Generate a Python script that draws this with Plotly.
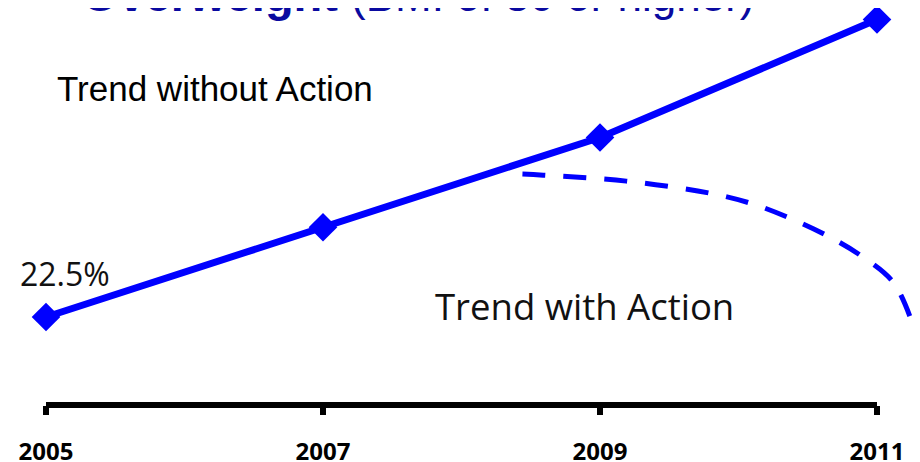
import plotly.graph_objects as go

# ---- data ----
years = [2005, 2007, 2009, 2011]
trend_without = [22.5, 25.05, 27.6, 30.95]
action_x = [2008.44, 2008.59, 2009.19, 2009.79, 2010.08, 2010.37, 2010.66, 2010.90, 2011.12, 2011.26]
action_y = [26.56, 26.53, 26.36, 26.02, 25.74, 25.31, 24.77, 24.20, 23.47, 22.27]
tick_labels = ["2005", "2007", "2009", "2011"]
start_label = "22.5%"

# page keeps its 8px body margin; figure fills the rest of the 920x462 window
OFF = 8
W, H = 920 - OFF, 462 - OFF
AXIS_Y = 405 - OFF          # axis line, figure pixels
B = H - AXIS_Y
PH = AXIS_Y

def px(sx):
    return (sx - OFF) / W

def py(sy):
    return (PH - (sy - OFF)) / PH

fig = go.Figure()
fig.add_trace(go.Scatter(
    x=years, y=trend_without, mode="lines+markers",
    line=dict(color="#0000FF", width=7),
    marker=dict(symbol="diamond", size=22, color="#0000FF"),
    hoverinfo="skip", showlegend=False, cliponaxis=False))
fig.add_trace(go.Scatter(
    x=action_x, y=action_y, mode="lines",
    line=dict(color="#0000FF", width=5, dash="23px,18px", shape="spline", smoothing=1.0),
    hoverinfo="skip", showlegend=False, cliponaxis=False))

fig.add_shape(type="line", xref="x", yref="paper", x0=years[0], x1=years[-1], y0=0, y1=0,
              line=dict(color="black", width=6))

ann = [
    dict(text="<b>Overweight</b> <span style='font-size:44px'>(BMI of 30 or higher)</span>",
         x=px(80), y=py(23), xanchor="left", yanchor="bottom",
         font=dict(family="Liberation Sans, Arial", size=47, color="#0A0AA0")),
    dict(text="Trend without Action", x=px(55), y=py(89), xanchor="left", yanchor="middle",
         font=dict(family="Liberation Sans, Arial", size=35, color="black")),
    dict(text=start_label, x=px(65), y=py(273), xanchor="center", yanchor="middle",
         font=dict(family="Open Sans", size=32, color="#111111")),
    dict(text="Trend with Action", x=px(584), y=py(306), xanchor="center", yanchor="middle",
         font=dict(family="Open Sans", size=36.5, color="#111111")),
]
for a in ann:
    a.update(xref="paper", yref="paper", showarrow=False)
fig.update_layout(annotations=ann)

PX_PER_YEAR = 138.5
x0 = 2005 - (46 - OFF) / PX_PER_YEAR
x1 = x0 + W / PX_PER_YEAR
PX_PER_UNIT = 35.2
y_top = 22.5 + (317 - OFF) / PX_PER_UNIT
fig.update_layout(
    width=W, height=H, margin=dict(l=0, r=0, t=0, b=B, autoexpand=False),
    paper_bgcolor="white", plot_bgcolor="white",
    xaxis=dict(range=[x0, x1], tickvals=years, ticktext=tick_labels, automargin=False,
               showgrid=False, zeroline=False, showline=False,
               ticks="outside", ticklen=9, tickwidth=6, tickcolor="black",
               ticklabelstandoff=16,
               tickfont=dict(family="Open Sans", size=24, color="black", weight="bold")),
    yaxis=dict(range=[20, y_top], visible=False, showgrid=False, zeroline=False, automargin=False),
)
fig.write_html("out.html", config={"displayModeBar": False})
